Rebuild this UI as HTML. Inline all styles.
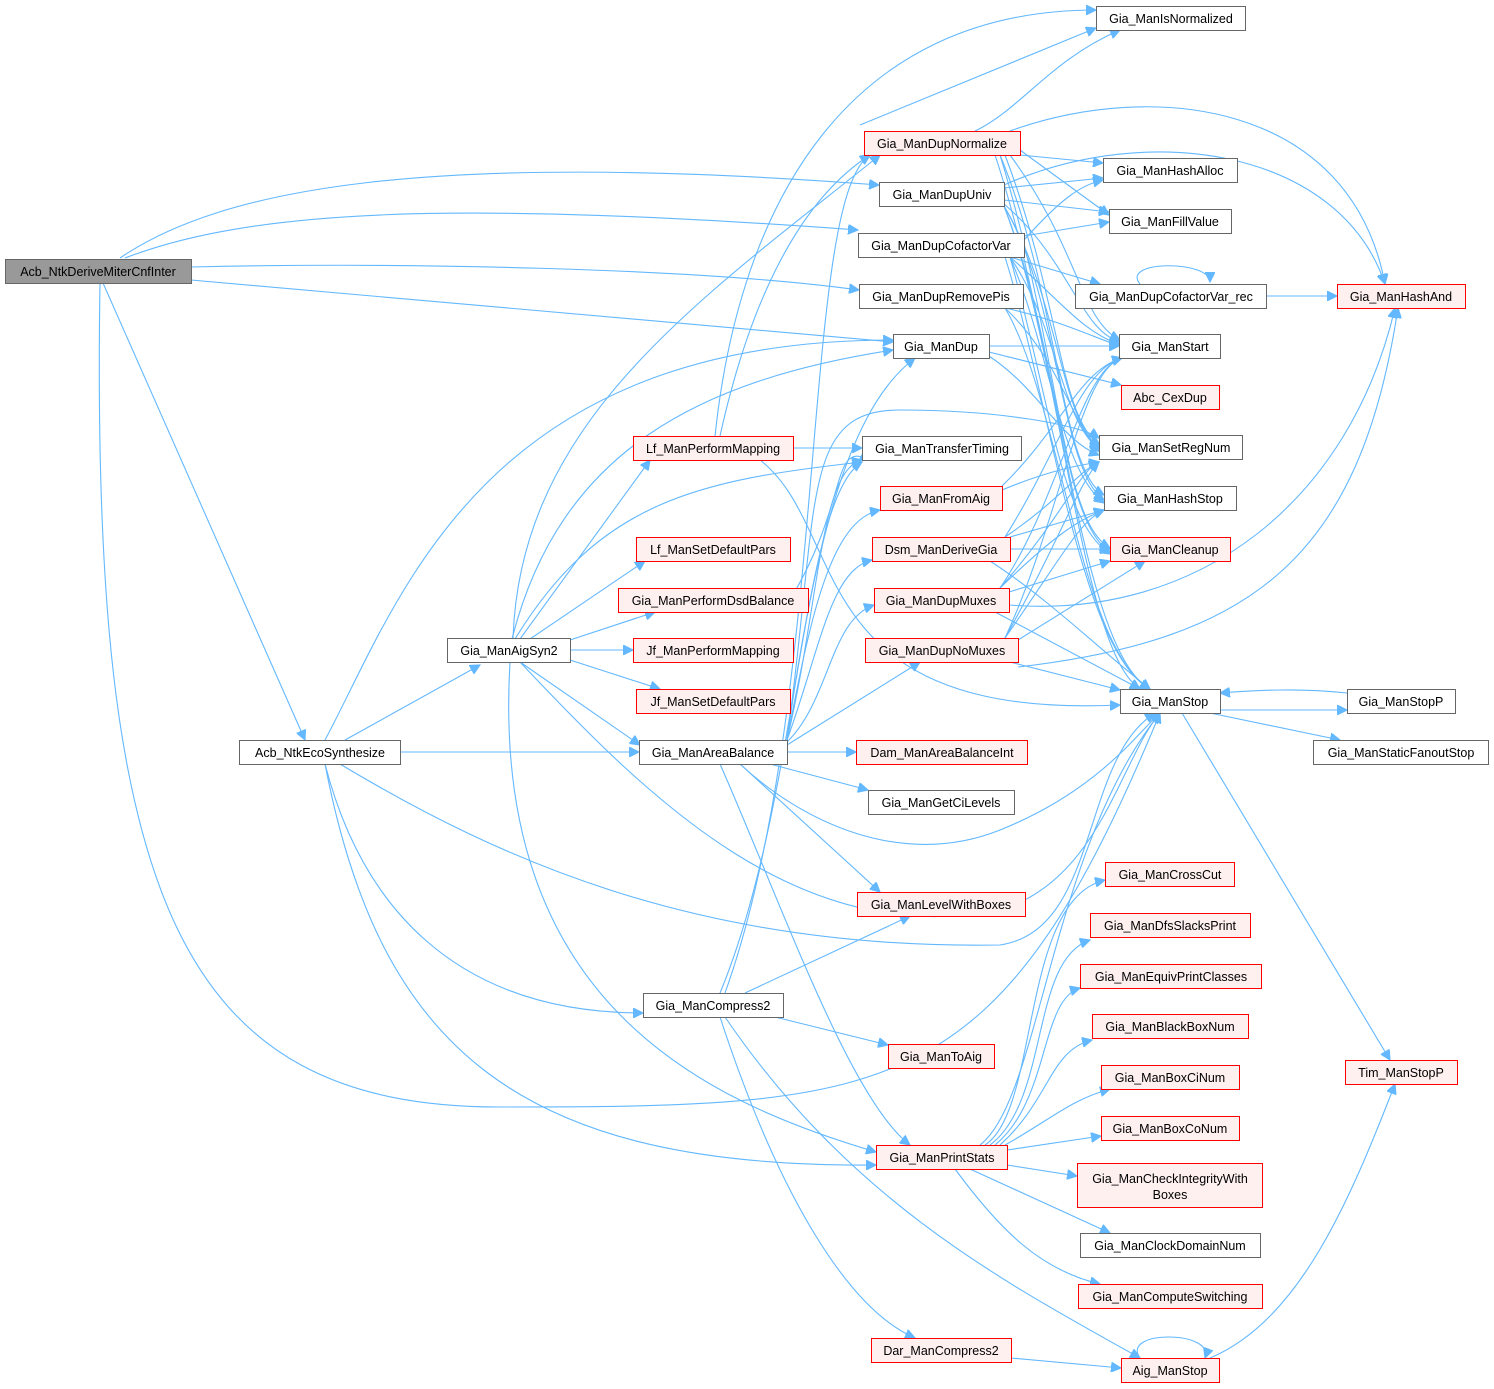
<!DOCTYPE html>
<html><head><meta charset="utf-8"><style>
html,body{margin:0;padding:0;background:#fff;}
svg{display:block;}
text{font-family:"Liberation Sans",Arial,sans-serif;font-size:12.5px;fill:#000;text-anchor:middle;}
.n rect{fill:#fff;stroke:#666;stroke-width:1;}
.r rect{fill:#fff0f0;stroke:#f00;stroke-width:1;}
.g rect{fill:#999;stroke:#666;}
path{fill:none;stroke:#63b8ff;stroke-width:1.1;}
</style></head><body>
<svg width="1494" height="1389" viewBox="0 0 1494 1389" xmlns="http://www.w3.org/2000/svg">
<defs><marker id="a" markerUnits="userSpaceOnUse" markerWidth="11" markerHeight="10" refX="10" refY="5" orient="auto"><path d="M0,0 L10,5 L0,10 Z" style="fill:#63b8ff;stroke:#63b8ff"/></marker></defs>
<g marker-end="url(#a)">
<!-- from DeriveMiter -->
<path d="M120,258 C220,190 420,150 879,185"/>
<path d="M125,258 C250,210 450,200 858,230"/>
<path d="M191,267 C400,262 700,268 859,290"/>
<path d="M191,280 L893,342"/>
<path d="M103,283 L305,740"/>
<path d="M100,283 C90,900 180,1107 500,1107 C900,1107 1000,1100 1160,713"/>
<!-- EcoSynth -->
<path d="M345,740 L480,665"/>
<path d="M400,752 L639,752"/>
<path d="M325,740 C400,600 480,340 893,340"/>
<path d="M325,764 C360,900 450,1013 643,1013"/>
<path d="M325,764 C380,1050 520,1168 876,1165"/>
<path d="M340,764 C500,860 700,950 1000,945 C1100,930 1080,760 1155,713"/>
<!-- AigSyn2 -->
<path d="M520,639 L650,460"/>
<path d="M530,639 L645,561"/>
<path d="M570,640 L655,612"/>
<path d="M570,650 L633,650"/>
<path d="M570,660 L660,689"/>
<path d="M520,662 L640,745"/>
<path d="M513,639 C520,420 700,300 880,155"/>
<path d="M515,639 C600,500 700,480 862,462"/>
<path d="M512,639 C560,450 700,380 893,350"/>
<path d="M510,662 C490,1000 700,1100 876,1152"/>
<path d="M520,662 C650,800 800,950 1000,910 C1100,880 1120,760 1160,713"/>
<!-- Lf -->
<path d="M715,436 C740,200 850,10 1096,10"/>
<path d="M793,448 L862,448"/>
<path d="M760,460 C850,530 800,720 1120,705"/>
<path d="M720,436 C750,300 800,200 870,155"/>
<!-- AreaBalance -->
<path d="M787,752 L856,752"/>
<path d="M770,764 L868,790"/>
<path d="M740,764 L880,892"/>
<path d="M720,764 C780,900 850,1100 910,1145"/>
<path d="M740,764 C800,820 900,870 1000,830 C1100,790 1140,730 1160,713"/>
<path d="M787,745 L920,662"/>
<path d="M787,742 C830,700 830,620 874,605"/>
<path d="M787,740 C820,650 830,570 872,560"/>
<path d="M787,740 C810,620 830,520 880,510"/>
<path d="M787,740 C820,600 820,470 862,460"/>
<path d="M787,740 C820,500 860,400 915,358"/>
<path d="M787,740 C820,500 800,410 900,410 C1000,410 1080,425 1099,438"/>
<path d="M790,600 C850,500 830,440 870,460"/>
<!-- Compress2 -->
<path d="M745,993 L910,916"/>
<path d="M775,1017 L888,1045"/>
<path d="M720,1017 C780,1200 850,1310 915,1338"/>
<path d="M725,1017 C850,1200 1000,1280 1140,1358"/>
<path d="M720,993 C800,800 800,500 862,462"/>
<path d="M725,993 C830,700 800,200 870,155"/>
<!-- right col: DupNormalize -->
<path d="M975,131 C1020,110 1050,60 1120,30"/>
<path d="M860,125 L1096,28"/>
<path d="M1010,131 C1150,80 1350,100 1385,284"/>
<path d="M1020,155 L1103,163"/>
<path d="M1020,150 L1109,215"/>
<path d="M1010,155 C1080,250 1080,320 1120,340"/>
<path d="M1005,155 C1060,300 1060,420 1100,445"/>
<path d="M1000,155 C1060,300 1060,470 1104,495"/>
<path d="M1000,155 C1060,350 1060,520 1110,548"/>
<path d="M995,155 C1060,350 1080,650 1140,689"/>
<!-- DupUniv -->
<path d="M1004,188 L1103,178"/>
<path d="M1004,200 L1109,212"/>
<path d="M1004,185 C1150,120 1340,150 1385,284"/>
<path d="M1004,204 C1070,260 1080,330 1120,342"/>
<path d="M1004,206 C1060,300 1060,420 1100,448"/>
<path d="M1004,206 C1060,300 1060,470 1104,500"/>
<path d="M1004,206 C1060,350 1060,520 1110,552"/>
<path d="M1004,206 C1060,350 1080,650 1150,689"/>
<!-- DupCofactorVar -->
<path d="M1024,236 L1109,222"/>
<path d="M1024,240 C1060,200 1080,185 1103,180"/>
<path d="M1010,257 L1100,284"/>
<path d="M1010,257 C1060,300 1080,330 1120,345"/>
<path d="M1010,257 C1060,330 1060,420 1100,450"/>
<path d="M1010,257 C1050,350 1060,470 1104,503"/>
<path d="M1010,257 C1050,400 1060,520 1110,554"/>
<path d="M1005,257 C1050,400 1080,650 1150,689"/>
<!-- DupRemovePis -->
<path d="M1005,308 C1060,320 1100,340 1120,346"/>
<path d="M1005,308 C1060,360 1070,420 1100,452"/>
<path d="M1005,308 C1060,400 1080,650 1150,689"/>
<!-- Gia_ManDup -->
<path d="M989,346 L1119,346"/>
<path d="M989,352 L1121,385"/>
<path d="M989,356 C1040,390 1060,440 1099,455"/>
<!-- FromAig -->
<path d="M1002,486 C1060,430 1080,370 1122,358"/>
<path d="M1002,490 C1050,470 1080,465 1099,462"/>
<!-- Dsm -->
<path d="M1005,537 C1060,450 1080,370 1122,358"/>
<path d="M1005,537 C1060,500 1080,470 1099,462"/>
<path d="M1010,537 L1104,510"/>
<path d="M1010,549 L1110,549"/>
<path d="M990,561 C1050,600 1100,650 1150,689"/>
<!-- DupMuxes -->
<path d="M1000,588 C1060,500 1080,370 1122,358"/>
<path d="M1000,588 C1060,520 1080,470 1099,462"/>
<path d="M1000,588 C1060,530 1080,520 1104,510"/>
<path d="M1009,592 L1110,561"/>
<path d="M995,612 L1140,689"/>
<path d="M1009,605 C1200,620 1350,500 1395,308"/>
<!-- DupNoMuxes -->
<path d="M1005,638 C1060,520 1080,370 1122,358"/>
<path d="M1005,638 C1060,540 1080,480 1099,462"/>
<path d="M1005,638 C1060,560 1080,520 1104,510"/>
<path d="M1018,640 L1145,561"/>
<path d="M1010,662 L1120,690"/>
<path d="M1018,667 C1250,640 1360,560 1398,308"/>
<!-- CofactorVar_rec -->
<path d="M1266,296 L1337,296"/>
<path d="M1140,284 C1120,260 1210,260 1210,282"/>
<!-- ManStop -->
<path d="M1220,710 L1347,710"/>
<path d="M1347,693 C1300,688 1260,690 1220,693"/>
<path d="M1210,713 L1340,740"/>
<path d="M1182,713 L1390,1060"/>
<!-- Aig_ManStop -->
<path d="M1210,1358 C1300,1320 1350,1200 1395,1084"/>
<path d="M1140,1358 C1120,1330 1215,1330 1205,1358"/>
<path d="M1011,1358 L1121,1368"/>
<!-- PrintStats -->
<path d="M985,1145 C1040,1110 1020,900 1105,880"/>
<path d="M990,1145 C1050,1100 1030,960 1090,940"/>
<path d="M995,1145 C1050,1100 1040,1000 1080,988"/>
<path d="M1000,1145 C1050,1100 1050,1050 1092,1040"/>
<path d="M1005,1145 C1050,1120 1070,1100 1110,1089"/>
<path d="M1007,1150 L1101,1136"/>
<path d="M1007,1165 L1077,1176"/>
<path d="M970,1169 L1110,1233"/>
<path d="M955,1169 C1000,1230 1040,1270 1100,1284"/>
<path d="M980,1145 C1040,1100 1050,850 1160,713"/>
</g>
<g class="g"><rect x="5.5" y="259.5" width="186" height="24"/><text x="98" y="276">Acb_NtkDeriveMiterCnfInter</text></g>
<g class="n"><rect x="239.5" y="740.5" width="161" height="24"/><text x="320" y="757">Acb_NtkEcoSynthesize</text></g>
<g class="n"><rect x="447.5" y="638.5" width="123" height="24"/><text x="509" y="655">Gia_ManAigSyn2</text></g>
<g class="n"><rect x="643.5" y="993.5" width="140" height="24"/><text x="713" y="1010">Gia_ManCompress2</text></g>
<g class="n"><rect x="639.5" y="740.5" width="148" height="24"/><text x="713" y="757">Gia_ManAreaBalance</text></g>
<g class="r"><rect x="633.5" y="436.5" width="160" height="24"/><text x="713" y="453">Lf_ManPerformMapping</text></g>
<g class="r"><rect x="636.5" y="537.5" width="154" height="24"/><text x="713" y="554">Lf_ManSetDefaultPars</text></g>
<g class="r"><rect x="618.5" y="588.5" width="190" height="24"/><text x="713" y="605">Gia_ManPerformDsdBalance</text></g>
<g class="r"><rect x="633.5" y="638.5" width="160" height="24"/><text x="713" y="655">Jf_ManPerformMapping</text></g>
<g class="r"><rect x="636.5" y="689.5" width="154" height="24"/><text x="713" y="706">Jf_ManSetDefaultPars</text></g>
<g class="r"><rect x="864.5" y="131.5" width="156" height="24"/><text x="942" y="148">Gia_ManDupNormalize</text></g>
<g class="n"><rect x="879.5" y="182.5" width="125" height="24"/><text x="942" y="199">Gia_ManDupUniv</text></g>
<g class="n"><rect x="858.5" y="233.5" width="166" height="24"/><text x="941" y="250">Gia_ManDupCofactorVar</text></g>
<g class="n"><rect x="859.5" y="284.5" width="164" height="24"/><text x="941" y="301">Gia_ManDupRemovePis</text></g>
<g class="n"><rect x="893.5" y="334.5" width="96" height="24"/><text x="941" y="351">Gia_ManDup</text></g>
<g class="n"><rect x="862.5" y="436.5" width="159" height="24"/><text x="942" y="453">Gia_ManTransferTiming</text></g>
<g class="r"><rect x="880.5" y="486.5" width="122" height="24"/><text x="941" y="503">Gia_ManFromAig</text></g>
<g class="r"><rect x="872.5" y="537.5" width="138" height="24"/><text x="941" y="554">Dsm_ManDeriveGia</text></g>
<g class="r"><rect x="874.5" y="588.5" width="135" height="24"/><text x="941" y="605">Gia_ManDupMuxes</text></g>
<g class="r"><rect x="865.5" y="638.5" width="153" height="24"/><text x="942" y="655">Gia_ManDupNoMuxes</text></g>
<g class="r"><rect x="856.5" y="740.5" width="171" height="24"/><text x="942" y="757">Dam_ManAreaBalanceInt</text></g>
<g class="n"><rect x="868.5" y="790.5" width="146" height="24"/><text x="941" y="807">Gia_ManGetCiLevels</text></g>
<g class="r"><rect x="857.5" y="892.5" width="168" height="24"/><text x="941" y="909">Gia_ManLevelWithBoxes</text></g>
<g class="r"><rect x="888.5" y="1044.5" width="106" height="24"/><text x="941" y="1061">Gia_ManToAig</text></g>
<g class="r"><rect x="876.5" y="1145.5" width="131" height="24"/><text x="942" y="1162">Gia_ManPrintStats</text></g>
<g class="r"><rect x="871.5" y="1338.5" width="140" height="24"/><text x="941" y="1355">Dar_ManCompress2</text></g>
<g class="n"><rect x="1096.5" y="6.5" width="149" height="24"/><text x="1171" y="23">Gia_ManIsNormalized</text></g>
<g class="n"><rect x="1103.5" y="158.5" width="134" height="24"/><text x="1170" y="175">Gia_ManHashAlloc</text></g>
<g class="n"><rect x="1109.5" y="209.5" width="122" height="24"/><text x="1170" y="226">Gia_ManFillValue</text></g>
<g class="n"><rect x="1075.5" y="284.5" width="191" height="24"/><text x="1171" y="301">Gia_ManDupCofactorVar_rec</text></g>
<g class="n"><rect x="1119.5" y="334.5" width="101" height="24"/><text x="1170" y="351">Gia_ManStart</text></g>
<g class="r"><rect x="1121.5" y="385.5" width="98" height="24"/><text x="1170" y="402">Abc_CexDup</text></g>
<g class="n"><rect x="1099.5" y="435.5" width="143" height="24"/><text x="1171" y="452">Gia_ManSetRegNum</text></g>
<g class="n"><rect x="1104.5" y="486.5" width="132" height="24"/><text x="1170" y="503">Gia_ManHashStop</text></g>
<g class="r"><rect x="1110.5" y="537.5" width="120" height="24"/><text x="1170" y="554">Gia_ManCleanup</text></g>
<g class="n"><rect x="1120.5" y="689.5" width="100" height="24"/><text x="1170" y="706">Gia_ManStop</text></g>
<g class="r"><rect x="1105.5" y="862.5" width="129" height="24"/><text x="1170" y="879">Gia_ManCrossCut</text></g>
<g class="r"><rect x="1090.5" y="913.5" width="160" height="24"/><text x="1170" y="930">Gia_ManDfsSlacksPrint</text></g>
<g class="r"><rect x="1080.5" y="964.5" width="181" height="24"/><text x="1171" y="981">Gia_ManEquivPrintClasses</text></g>
<g class="r"><rect x="1092.5" y="1014.5" width="156" height="24"/><text x="1170" y="1031">Gia_ManBlackBoxNum</text></g>
<g class="r"><rect x="1101.5" y="1065.5" width="138" height="24"/><text x="1170" y="1082">Gia_ManBoxCiNum</text></g>
<g class="r"><rect x="1101.5" y="1116.5" width="138" height="24"/><text x="1170" y="1133">Gia_ManBoxCoNum</text></g>
<g class="r"><rect x="1077.5" y="1163.5" width="185" height="44"/><text x="1170" y="1183">Gia_ManCheckIntegrityWith</text><text x="1170" y="1199">Boxes</text></g>
<g class="n"><rect x="1080.5" y="1233.5" width="180" height="24"/><text x="1170" y="1250">Gia_ManClockDomainNum</text></g>
<g class="r"><rect x="1078.5" y="1284.5" width="184" height="24"/><text x="1170" y="1301">Gia_ManComputeSwitching</text></g>
<g class="r"><rect x="1121.5" y="1358.5" width="98" height="24"/><text x="1170" y="1375">Aig_ManStop</text></g>
<g class="r"><rect x="1337.5" y="284.5" width="128" height="24"/><text x="1401" y="301">Gia_ManHashAnd</text></g>
<g class="n"><rect x="1347.5" y="689.5" width="108" height="24"/><text x="1401" y="706">Gia_ManStopP</text></g>
<g class="n"><rect x="1313.5" y="740.5" width="175" height="24"/><text x="1401" y="757">Gia_ManStaticFanoutStop</text></g>
<g class="r"><rect x="1345.5" y="1060.5" width="112" height="24"/><text x="1401" y="1077">Tim_ManStopP</text></g>
</svg>
</body></html>
